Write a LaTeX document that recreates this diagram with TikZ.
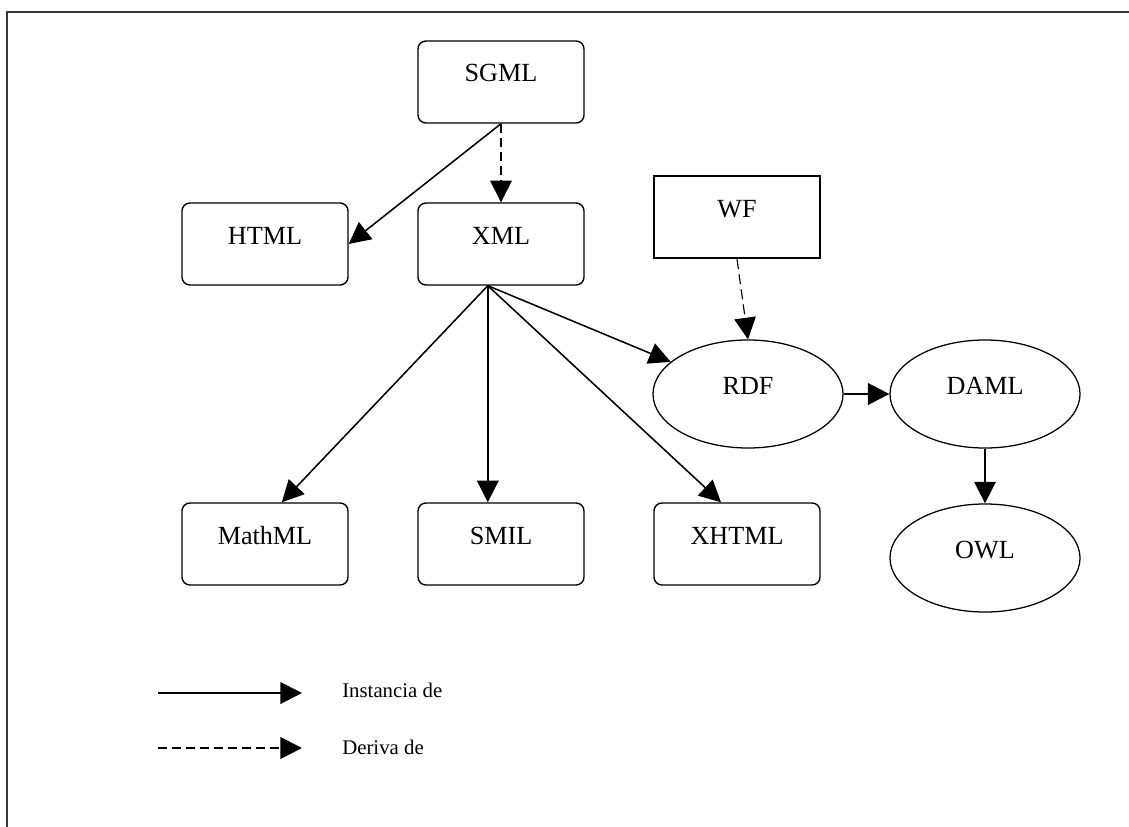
\documentclass[tikz,border=0pt]{standalone}
\usepackage{fontspec}
\setmainfont{Liberation Serif}
\usetikzlibrary{arrows.meta,shapes.geometric}

\begin{document}
\begin{tikzpicture}[x=0.025cm,y=-0.025cm,
  lang/.style={draw,line width=1pt,rounded corners=0.2cm,minimum width=4.15cm,minimum height=2.05cm,
    text height=0.45cm,text depth=0.45cm,font=\fontsize{18.6}{22}\selectfont},
  onto/.style={draw,ellipse,line width=0.9pt,minimum width=4.75cm,minimum height=2.7cm,
    text height=0.45cm,text depth=0.45cm,font=\fontsize{18.6}{22}\selectfont},
  inst/.style={line width=1.1pt,-{Triangle[length=0.54cm,width=0.54cm]}},
  deriv/.style={inst,dash pattern=on 0.22cm off 0.13cm},
  key/.style={inner sep=0pt,anchor=base west,font=\fontsize{14.8}{17}\selectfont}]
\useasboundingbox (0,0) rectangle (1129,827);
\draw[gray!45!black,line width=1.4pt] (1129,12) -- (7,12) -- (7,827);

% languages
\node[lang] (SGML) at (501,82) {SGML};
\node[lang] (HTML) at (265,244) {HTML};
\node[lang] (XML) at (501,244) {XML};
\node[lang,rounded corners=0pt,line width=1.7pt] (WF) at (737,217) {WF};
\node[lang] (MathML) at (265,544) {MathML};
\node[lang] (SMIL) at (501,544) {SMIL};
\node[lang] (XHTML) at (737,544) {XHTML};

% ontologies
\node[onto] (RDF) at (748,394) {RDF};
\node[onto] (DAML) at (985,394) {DAML};
\node[onto] (OWL) at (985,558) {OWL};

\coordinate (fan) at ([xshift=-0.33cm]XML.south);

\draw[inst] (SGML.south) -- (HTML.east);
\draw[deriv] (SGML.south) -- (XML.north);
\draw[inst] (fan) -- ([xshift=0.42cm]MathML.north);
\draw[inst] (fan) -- (fan |- SMIL.north);
\draw[inst] (fan) -- ([xshift=-0.4cm]XHTML.north);
\draw[inst] (fan) -- (RDF);
\draw[deriv,line width=0.8pt,dash pattern=on 0.25cm off 0.13cm] (WF.south) -- (RDF.north);
\draw[inst,line width=1.9pt] (RDF.east) -- (DAML.west);
\draw[inst] (DAML.south) -- (OWL.north);

% legend
\coordinate (instfrom) at (158,693);
\coordinate (instto) at (302,693);
\coordinate (derivfrom) at (158,748);
\coordinate (derivto) at (302,748);
\draw[inst,line width=1.4pt] (instfrom) -- (instto);
\draw[deriv,line width=1.4pt] (derivfrom) -- (derivto);
\node[key] (instkey) at (342,697) {Instancia de};
\node[key] (derivkey) at (342,754) {Deriva de};
\end{tikzpicture}
\end{document}
